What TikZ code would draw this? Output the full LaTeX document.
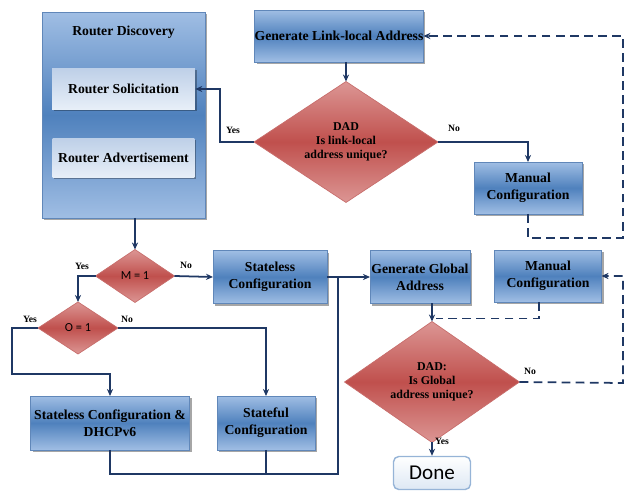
\documentclass[tikz,border=0pt]{standalone}
\usepackage{fontspec}
\setmainfont{Liberation Serif}
\newfontfamily\calfont{Carlito}
\usepackage{tikz}
\usetikzlibrary{
    arrows.meta,
    calc,
    shapes.geometric,
    shadows
}
\definecolor{boxdark}{RGB}{79,129,189}
\definecolor{boxlight}{RGB}{160,190,228}
\definecolor{boxborder}{RGB}{96,135,185}
\definecolor{panellight}{RGB}{232,239,248}
\definecolor{panelblue}{RGB}{190,208,232}
\definecolor{reddark}{RGB}{192,80,77}
\definecolor{redlight}{RGB}{220,150,148}
\definecolor{redborder}{RGB}{200,110,108}
\definecolor{linecol}{RGB}{31,56,100}
\definecolor{donefill}{RGB}{222,232,244}
\definecolor{doneborder}{RGB}{150,180,215}
\tikzset
{
  bluebox/.style={draw=boxborder,top color=boxlight,bottom color=boxlight,middle color=boxdark,
    align=center,inner sep=0pt,outer sep=0pt,font=\fontsize{7.8}{9.5}\selectfont\bfseries,
    drop shadow={shadow xshift=1.2pt,shadow yshift=-1.2pt,opacity=0.35,fill=black}},
  panel/.style={draw=none,top color=panelblue,bottom color=panellight,
    align=center,inner sep=0pt,font=\fontsize{7.8}{9.5}\selectfont\bfseries,
    drop shadow={shadow xshift=1pt,shadow yshift=-1pt,opacity=0.3,fill=black}},
  decision/.style={diamond,draw=redborder,top color=redlight,bottom color=redlight,middle color=reddark,
    align=center,inner sep=0pt,outer sep=0pt,font=\fontsize{6.8}{7.8}\selectfont\bfseries},
  donebox/.style={draw=doneborder,thick,rounded corners=3pt,top color=white,bottom color=donefill,
    inner sep=0pt,font=\calfont\fontsize{12}{14}\selectfont},
  answer/.style={font=\fontsize{5.5}{6}\selectfont\bfseries,inner sep=0pt},
  line/.style={draw=linecol,line width=1pt},
  link/.style={line,-{Stealth[length=4pt,width=3.5pt]}},
  dashlink/.style={line,dashed,dash pattern=on 5pt off 3pt,-{Stealth[length=4pt,width=3.5pt]}},
  dashline/.style={line,dash pattern=on 5pt off 3pt}
}
\begin{document}
\begin{tikzpicture}[x=0.02cm,y=-0.02cm]
    \useasboundingbox (0,0) rectangle (626,493);

    % Router discovery block
    \node[bluebox,minimum width=3.26cm,minimum height=4.12cm] (disc) at (123.5,115) {};
    \node[font=\fontsize{7.8}{9.5}\selectfont\bfseries] (disctitle) at (123.5,32) {Router Discovery};
    \node[panel,minimum width=2.86cm,minimum height=0.82cm] (sol) at (123.5,89) {Router Solicitation};
    \node[panel,minimum width=2.84cm,minimum height=0.78cm] (adv) at (123.5,158) {Router Advertisement};

    % Link-local address
    \node[bluebox,minimum width=3.36cm,minimum height=1.04cm] (gen1) at (339,36) {Generate Link-local Address};
    \node[decision,minimum width=3.68cm,minimum height=1.96cm] (dad1) at (346,142) {DAD\\Is link-local\\address unique?};
    \node[bluebox,minimum width=2.16cm,minimum height=1.04cm] (man1) at (528,188) {Manual\\Configuration};

    % M and O flags
    \node[decision,minimum width=1.58cm,minimum height=1.06cm,font=\calfont\fontsize{7}{8}\selectfont] (m1) at (135,276) {M = 1};
    \node[decision,minimum width=1.6cm,minimum height=1.04cm,font=\calfont\fontsize{7}{8}\selectfont] (o1) at (78,328) {O = 1};
    \node[bluebox,minimum width=2.28cm,minimum height=1.06cm] (stateless) at (270,277) {Stateless\\Configuration};
    \node[bluebox,minimum width=3.18cm,minimum height=1.08cm] (dhcp) at (110,423) {Stateless Configuration \&\\DHCPv6};
    \node[bluebox,minimum width=1.96cm,minimum height=1.08cm] (stateful) at (266,423) {Stateful\\Configuration};

    % Global address
    \node[bluebox,minimum width=2cm,minimum height=1.06cm] (global) at (420,277) {Generate Global\\Address};
    \node[bluebox,minimum width=2.14cm,minimum height=1.04cm] (man2) at (548,276) {Manual\\Configuration};
    \node[decision,minimum width=3.5cm,minimum height=2.02cm] (dad2) at (432,382) {DAD:\\Is Global\\address unique?};
    \node[donebox,minimum width=1.54cm,minimum height=0.66cm] (done) at (432,473) {Done};

    % Helper points
    \coordinate (rt1) at (623,238);
    \coordinate (rt2) at (623,383);
    \coordinate (jn) at (338,277);
    \coordinate (bt) at (338,474);

    % Connectors, top part
    \draw[link] (dad1.west) -- ++(-34,0) |- (sol.east);
    \draw[link] (dad1.east) -| (man1.north);
    \draw[dashlink] (man1.south) |- (rt1) |- (gen1.east);
    \draw[link] (gen1.south -| dad1.north) -- (dad1.north);
    \draw[link] (disc.south -| m1.north) -- (m1.north);

    % Connectors, flags
    \draw[link] (m1.west) -| (o1.north);
    \draw[link] (m1.east) -- (stateless.west);
    \draw[link] (o1.west) -| (12,374) -| (dhcp.north);
    \draw[link] (o1.east) -| (stateful.north);
    \draw[line] (stateless.east) -- (jn);
    \draw[line] (dhcp.south) |- (bt) -- (jn);
    \draw[line] (stateful.south) -- (stateful.south |- bt);
    \draw[link] (jn) -- (global.west);

    % Connectors, global part
    \draw[link] (dad2.north |- global.south) -- (dad2.north);
    \draw[dashline] ($(man2.south)+(-9,0)$) |- ($(dad2.north)+(4,-3)$);
    \draw[dashlink] (dad2.east) -- (rt2) |- (man2.east);
    \draw[link] (dad2.south) -- (done.north);

    % Answers
    \node[answer] (yes1) at (233,130) {Yes};
    \node[answer] (no1) at (454,128) {No};
    \node[answer] (yes2) at (82,266) {Yes};
    \node[answer] (no2) at (186,265) {No};
    \node[answer] (yes3) at (30,319) {Yes};
    \node[answer] (no3) at (127,319) {No};
    \node[answer] (no4) at (530,371) {No};
    \node[answer] (yes4) at (442,441) {Yes};
\end{tikzpicture}
\end{document}
